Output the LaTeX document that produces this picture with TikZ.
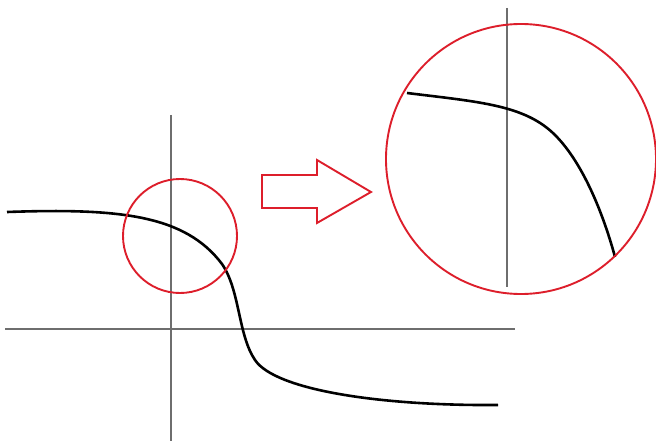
\documentclass[tikz,border=0pt]{standalone}
\usepackage{tikz}
\definecolor{lensred}{HTML}{DD1E2B}
\definecolor{axisgray}{HTML}{6E6E6E}

\begin{document}
\begin{tikzpicture}[x=1pt, y=-1pt]
    \useasboundingbox (0,0) rectangle (656,441);

    % Axes
    \draw[axisgray, line width=1.1pt] (5,329) -- (515,329);
    \draw[axisgray, line width=1.1pt] (171,115) -- (171,441);

    % Step-like curve
    \draw[black, line width=2.6pt]
        (7,212) .. controls (120,208) and (185,215) .. (222,264)
        .. controls (240,290) and (238,335) .. (255,360)
        .. controls (275,390) and (380,406) .. (498,405);

    % Region to magnify
    \draw[lensred, line width=1.9pt] (180,236) circle[radius=57];

    % Hollow arrow
    \draw[lensred, line width=1.9pt, fill=white]
        (262,175) -- (317,175) -- (317,160) -- (371,192)
        -- (317,223) -- (317,208) -- (262,208) -- cycle;

    % Magnified view
    \draw[axisgray, line width=1.1pt] (507,8) -- (507,287);
    \draw[black, line width=2.6pt]
        (407,93) .. controls (480,102) and (525,105) .. (555,135)
        .. controls (585,165) and (605,220) .. (615,257);
    \draw[lensred, line width=1.9pt] (521,159) circle[radius=135];
\end{tikzpicture}
\end{document}
